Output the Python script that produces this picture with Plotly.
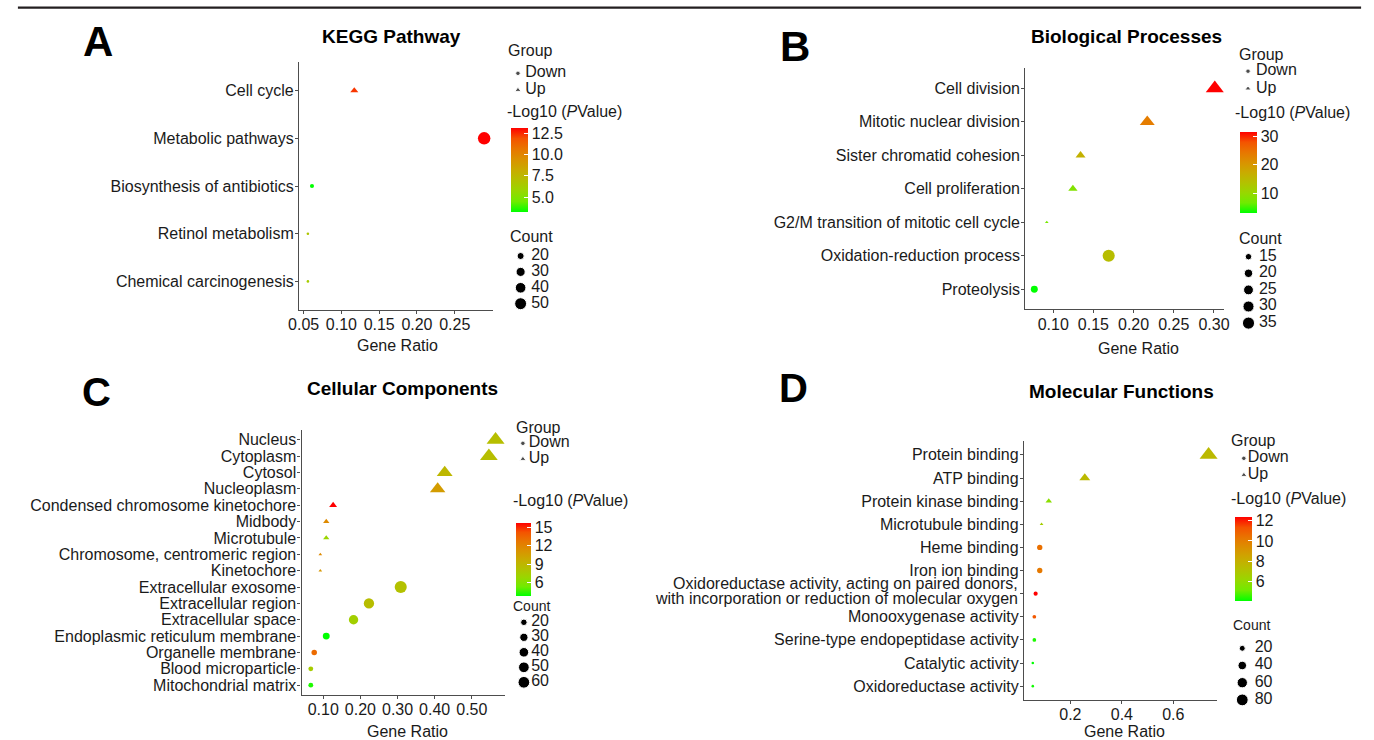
import math
import plotly.graph_objects as go

# ---------------- data ----------------
group_labels = ["Down", "Up"]

kegg_terms = ["Cell cycle", "Metabolic pathways", "Biosynthesis of antibiotics",
              "Retinol metabolism", "Chemical carcinogenesis"]
kegg_group = ["Up", "Down", "Down", "Down", "Down"]
kegg_ratio = [0.117, 0.289, 0.061, 0.0556, 0.0556]
kegg_count = [15, 55, 12, 11, 11]
kegg_logp = [12.3, 13.1, 3.2, 6.7, 6.3]
kegg_xticks = [0.05, 0.10, 0.15, 0.20, 0.25]
kegg_cticks = [5.0, 7.5, 10.0, 12.5]
kegg_size_breaks = [20, 30, 40, 50]

bp_terms = ["Cell division", "Mitotic nuclear division", "Sister chromatid cohesion",
            "Cell proliferation", "G2/M transition of mitotic cell cycle",
            "Oxidation-reduction process", "Proteolysis"]
bp_group = ["Up", "Up", "Up", "Up", "Up", "Down", "Down"]
bp_ratio = [0.301, 0.217, 0.134, 0.1245, 0.092, 0.169, 0.0765]
bp_count = [37, 27, 16, 15, 11, 35, 16]
bp_logp = [31.5, 23.6, 16.5, 8.5, 7.5, 14.6, 3.4]
bp_xticks = [0.10, 0.15, 0.20, 0.25, 0.30]
bp_cticks = [10, 20, 30]
bp_size_breaks = [15, 20, 25, 30, 35]

cc_terms = ["Nucleus", "Cytoplasm", "Cytosol", "Nucleoplasm",
            "Condensed chromosome kinetochore", "Midbody", "Microtubule",
            "Chromosome, centromeric region", "Kinetochore", "Extracellular exosome",
            "Extracellular region", "Extracellular space",
            "Endoplasmic reticulum membrane", "Organelle membrane",
            "Blood microparticle", "Mitochondrial matrix"]
cc_group = ["Up", "Up", "Up", "Up", "Up", "Up", "Up", "Up", "Up",
            "Down", "Down", "Down", "Down", "Down", "Down", "Down"]
cc_ratio = [0.564, 0.546, 0.427, 0.408, 0.1265, 0.108, 0.108, 0.092, 0.092,
            0.3086, 0.223, 0.1815, 0.108, 0.0756, 0.0664, 0.0664]
cc_count = [69, 67, 53, 50, 16, 13, 13, 11, 11, 64, 46, 38, 22, 16, 14, 14]
cc_logp = [8.4, 8.4, 8.9, 10.6, 15.6, 11.6, 6.9, 11.6, 10.9,
           8.2, 8.5, 7.3, 3.8, 13.1, 7.5, 4.2]
cc_xticks = [0.10, 0.20, 0.30, 0.40, 0.50]
cc_cticks = [6, 9, 12, 15]
cc_size_breaks = [20, 30, 40, 50, 60]

mf_terms = ["Protein binding", "ATP binding", "Protein kinase binding",
            "Microtubule binding", "Heme binding", "Iron ion binding",
            "Oxidoreductase activity, acting on paired donors,<br>"
            "with incorporation or reduction of molecular oxygen",
            "Monooxygenase activity", "Serine-type endopeptidase activity",
            "Catalytic activity", "Oxidoreductase activity"]
mf_group = ["Up", "Up", "Up", "Up", "Down", "Down", "Down", "Down", "Down", "Down", "Down"]
mf_ratio = [0.737, 0.256, 0.116, 0.088, 0.081, 0.081, 0.065, 0.060, 0.060, 0.054, 0.054]
mf_count = [91, 31, 14, 11, 17, 17, 13, 12, 12, 11, 11]
mf_logp = [7.6, 7.6, 5.8, 6.6, 10.5, 10.2, 12.4, 11.2, 4.35, 4.1, 4.25]
mf_xticks = [0.2, 0.4, 0.6]
mf_cticks = [6, 8, 10, 12]
mf_size_breaks = [20, 40, 60, 80]

# ---------------- style / layout ----------------
W, H = 1374, 740
FONT = "Liberation Sans, Arial, Helvetica, sans-serif"
TXT = "#1a1a1a"
AX = "#4d4d4d"

COLORSCALE = [[0.0, "rgb(0,255,0)"], [0.125, "rgb(112,235,0)"], [0.25, "rgb(152,215,0)"],
              [0.375, "rgb(179,193,0)"], [0.5, "rgb(201,171,0)"], [0.625, "rgb(218,146,0)"],
              [0.75, "rgb(232,118,0)"], [0.875, "rgb(244,83,0)"], [1.0, "rgb(255,0,0)"]]

DMIN, DMAX, TRI = 2.6, 12.5, 1.25


def fx(p):
    return p / W


def fy(p):
    return 1 - p / H


def diameters(vals, lo, hi):
    return [DMIN + (DMAX - DMIN) * math.sqrt(max(v - lo, 0) / (hi - lo)) for v in vals]


def aid(base, k):
    return base if k == 1 else f"{base}{k}"


panels = [
    dict(terms=kegg_terms, group=kegg_group, ratio=kegg_ratio, count=kegg_count, logp=kegg_logp,
         xticks=kegg_xticks, xfmt=".2f", cticks=kegg_cticks, cfmt=".1f", breaks=kegg_size_breaks,
         letter="A", title="KEGG Pathway", letter_size=42,
         box=(291.7, 62, 488, 310), letter_pos=(88, 41.7), title_pos=(385, 36.7), xlab=(391, 345),
         grp=(513.3, 520.7, 73.3, 16.7), grp_title=(501, 51), lg_title=(500, 111.7),
         cbar=(506, 128.3, 17, 84), cnt=(516, 526.7, 256, 15.9), cnt_title=(503, 236.7), cnt_font=16),
    dict(terms=bp_terms, group=bp_group, ratio=bp_ratio, count=bp_count, logp=bp_logp,
         xticks=bp_xticks, xfmt=".2f", cticks=bp_cticks, cfmt="", breaks=bp_size_breaks,
         letter="B", title="Biological Processes", letter_size=42,
         box=(1027, 68.3, 1228, 309.3), letter_pos=(793.4, 46.7), title_pos=(1129.3, 36.7), xlab=(1142, 348.3),
         grp=(1252.5, 1260.5, 71.2, 17.4), grp_title=(1241.4, 54), lg_title=(1237, 112.3),
         cbar=(1244, 131.7, 17, 80.6), cnt=(1253, 1263.6, 256.7, 16.6), cnt_title=(1241.4, 238.3), cnt_font=16),
    dict(terms=cc_terms, group=cc_group, ratio=cc_ratio, count=cc_count, logp=cc_logp,
         xticks=cc_xticks, xfmt=".2f", cticks=cc_cticks, cfmt="", breaks=cc_size_breaks,
         letter="C", title="Cellular Components", letter_size=40,
         box=(294.2, 430, 500, 695), letter_pos=(86.5, 391.7), title_pos=(396.9, 388.3), xlab=(401, 731.7),
         grp=(518.3, 524.3, 443.3, 15.7), grp_title=(509, 427.3), lg_title=(506, 500.7),
         cbar=(511.7, 523.3, 15, 73.4), cnt=(519.3, 526.7, 622.3, 15), cnt_title=(506, 606), cnt_font=14),
    dict(terms=mf_terms, group=mf_group, ratio=mf_ratio, count=mf_count, logp=mf_logp,
         xticks=mf_xticks, xfmt=".1f", cticks=mf_cticks, cfmt="", breaks=mf_size_breaks,
         letter="D", title="Molecular Functions", letter_size=40,
         box=(1025.7, 441, 1221.5, 700), letter_pos=(792.8, 388.3), title_pos=(1124, 391.7), xlab=(1127, 731),
         grp=(1248.3, 1252.3, 458.3, 16.7), grp_title=(1233.3, 440), lg_title=(1233.3, 498.3),
         cbar=(1239.3, 516.7, 17, 84.3), cnt=(1246.7, 1259.3, 648.3, 17.2), cnt_title=(1235.3, 625), cnt_font=14),
]

fig = go.Figure()
layout = dict(width=W, height=H, margin=dict(l=0, r=0, t=0, b=0),
              paper_bgcolor="white", plot_bgcolor="white", showlegend=False,
              font=dict(family=FONT, size=16, color=TXT))
annotations = []
shapes = [dict(type="line", xref="paper", yref="paper", x0=fx(7), x1=fx(1367),
               y0=fy(7.7), y1=fy(7.7), line=dict(color="#231f20", width=2.2))]


def ann(text, x, y, size, xanchor="center", bold=False):
    annotations.append(dict(text=f"<b>{text}</b>" if bold else text, x=fx(x), y=fy(y),
                            xref="paper", yref="paper", xanchor=xanchor, yanchor="middle",
                            showarrow=False, font=dict(family=FONT, size=size, color="#000" if bold else TXT)))


for i, p in enumerate(panels):
    k, kg, kc = i + 1, i + 5, i + 9
    ca = aid("coloraxis", k)
    x0, y0, x1, y1 = p["box"]
    n = len(p["terms"])
    lo, hi = min(p["ratio"]), max(p["ratio"])
    pad = 0.05 * (hi - lo)
    cmin_, cmax_ = min(p["count"]), max(p["count"])
    dall = diameters(p["count"], cmin_, cmax_)

    # --- data points ---
    for grp, sym, fac in (("Down", "circle", 1.0), ("Up", "triangle-up", TRI)):
        idx = [j for j, g in enumerate(p["group"]) if g == grp]
        fig.add_trace(go.Scatter(
            x=[p["ratio"][j] for j in idx], y=[p["terms"][j] for j in idx],
            customdata=[[p["count"][j], p["logp"][j]] for j in idx],
            mode="markers", xaxis=aid("x", k), yaxis=aid("y", k), cliponaxis=False,
            name=grp,
            marker=dict(symbol=sym, size=[dall[j] * fac for j in idx], opacity=1,
                        color=[p["logp"][j] for j in idx], coloraxis=ca, line=dict(width=0)),
            hovertemplate="%{y}<br>Gene Ratio %{x}<br>Count %{customdata[0]}"
                          "<br>-Log10(P) %{customdata[1]}<extra>" + grp + "</extra>"))

    # multi-line category names are written as separate lines next to their tick
    ticktext = ["" if "<br>" in t else t for t in p["terms"]]
    for t in p["terms"]:
        if "<br>" in t:
            lines = t.split("<br>")
            shifts = [10.5, -4.5]
            for line, ys in zip(lines, shifts):
                annotations.append(dict(text=line, xref=f"{aid('x', k)} domain", x=0, xanchor="right",
                                        xshift=-4, yref=aid("y", k), y=t, yanchor="middle", yshift=ys,
                                        showarrow=False, font=dict(family=FONT, size=16, color=TXT)))

    layout[aid("xaxis", k)] = dict(
        domain=[fx(x0), fx(x1)], anchor=aid("y", k), range=[lo - pad, hi + pad],
        tickvals=p["xticks"], tickformat=p["xfmt"], showline=True, linecolor=AX, linewidth=1.3,
        ticks="outside", ticklen=3, tickwidth=1, tickcolor=AX, showgrid=False, zeroline=False,
        ticklabelstandoff=-3, tickfont=dict(size=16, color=TXT), fixedrange=True)
    layout[aid("yaxis", k)] = dict(
        domain=[fy(y1), fy(y0)], anchor=aid("x", k), type="category", categoryorder="array",
        categoryarray=p["terms"], tickmode="array", tickvals=p["terms"], ticktext=ticktext,
        range=[n - 0.4, -0.6], showline=True, linecolor=AX,
        linewidth=1.3, ticks="outside", ticklen=3, tickwidth=1, tickcolor=AX, showgrid=False,
        ticklabelstandoff=-2, zeroline=False, tickfont=dict(size=16, color=TXT), fixedrange=True)

    # --- colour bar ---
    cx, ctop, cth, clen = p["cbar"]
    layout[ca] = dict(
        colorscale=COLORSCALE, cmin=min(p["logp"]), cmax=max(p["logp"]),
        colorbar=dict(thickness=cth, thicknessmode="pixels", len=clen, lenmode="pixels",
                      x=fx(cx), xanchor="left", y=fy(ctop), yanchor="top", xpad=0, ypad=0,
                      outlinewidth=0, ticks="inside", ticklen=4, tickwidth=1, tickcolor="white",
                      tickvals=p["cticks"], tickformat=p["cfmt"],
                      tickfont=dict(size=16, color=TXT)))

    # --- Group legend ---
    kx, tx, yd, s = p["grp"]
    layout[f"xaxis{kg}"] = dict(domain=[fx(2 * kx - tx), fx(tx)], range=[-1, 1],
                                anchor=f"y{kg}", visible=False, fixedrange=True)
    layout[f"yaxis{kg}"] = dict(domain=[fy(yd + 1.5 * s), fy(yd - 0.5 * s)], range=[1.5, -0.5],
                                type="category", categoryorder="array", categoryarray=group_labels,
                                anchor=f"x{kg}", visible=False, fixedrange=True)
    fig.add_trace(go.Scatter(x=[0] * len(group_labels), y=group_labels, mode="markers",
                             marker=dict(symbol=["circle", "triangle-up"], size=[4.5, 5.5], color="black"),
                             xaxis=f"x{kg}", yaxis=f"y{kg}", cliponaxis=False, hoverinfo="skip"))
    fig.add_trace(go.Scatter(x=[1] * len(group_labels), y=group_labels, mode="text", text=group_labels,
                             textposition="middle right", textfont=dict(family=FONT, size=16, color=TXT),
                             xaxis=f"x{kg}", yaxis=f"y{kg}", cliponaxis=False, hoverinfo="skip"))

    # --- Count legend ---
    blabels = [str(b) for b in p["breaks"]]
    nb = len(blabels)
    kx, tx, yc, s = p["cnt"]
    layout[f"xaxis{kc}"] = dict(domain=[fx(2 * kx - tx), fx(tx)], range=[-1, 1],
                                anchor=f"y{kc}", visible=False, fixedrange=True)
    layout[f"yaxis{kc}"] = dict(domain=[fy(yc + (nb - 0.5) * s), fy(yc - 0.5 * s)],
                                range=[nb - 0.5, -0.5], type="category", categoryorder="array",
                                categoryarray=blabels, anchor=f"x{kc}", visible=False, fixedrange=True)
    fig.add_trace(go.Scatter(x=[0] * nb, y=blabels, mode="markers",
                             marker=dict(symbol="circle", size=diameters(p["breaks"], cmin_, cmax_),
                                         color="black", opacity=1),
                             xaxis=f"x{kc}", yaxis=f"y{kc}", cliponaxis=False, hoverinfo="skip"))
    fig.add_trace(go.Scatter(x=[1] * nb, y=blabels, mode="text", text=blabels,
                             textposition="middle right", textfont=dict(family=FONT, size=16, color=TXT),
                             xaxis=f"x{kc}", yaxis=f"y{kc}", cliponaxis=False, hoverinfo="skip"))

    # --- texts ---
    ann(p["letter"], *p["letter_pos"], p["letter_size"], bold=True)
    ann(p["title"], *p["title_pos"], 19, bold=True)
    ann("Gene Ratio", *p["xlab"], 16)
    ann("Group", *p["grp_title"], 16, xanchor="left")
    ann("-Log10 (<i>P</i>Value)", *p["lg_title"], 16, xanchor="left")
    ann("Count", *p["cnt_title"], p["cnt_font"], xanchor="left")

layout["annotations"] = annotations
layout["shapes"] = shapes
fig.update_layout(**layout)
fig.write_html("out.html", config={"displayModeBar": False},
               post_script="document.body.style.margin='0';")
